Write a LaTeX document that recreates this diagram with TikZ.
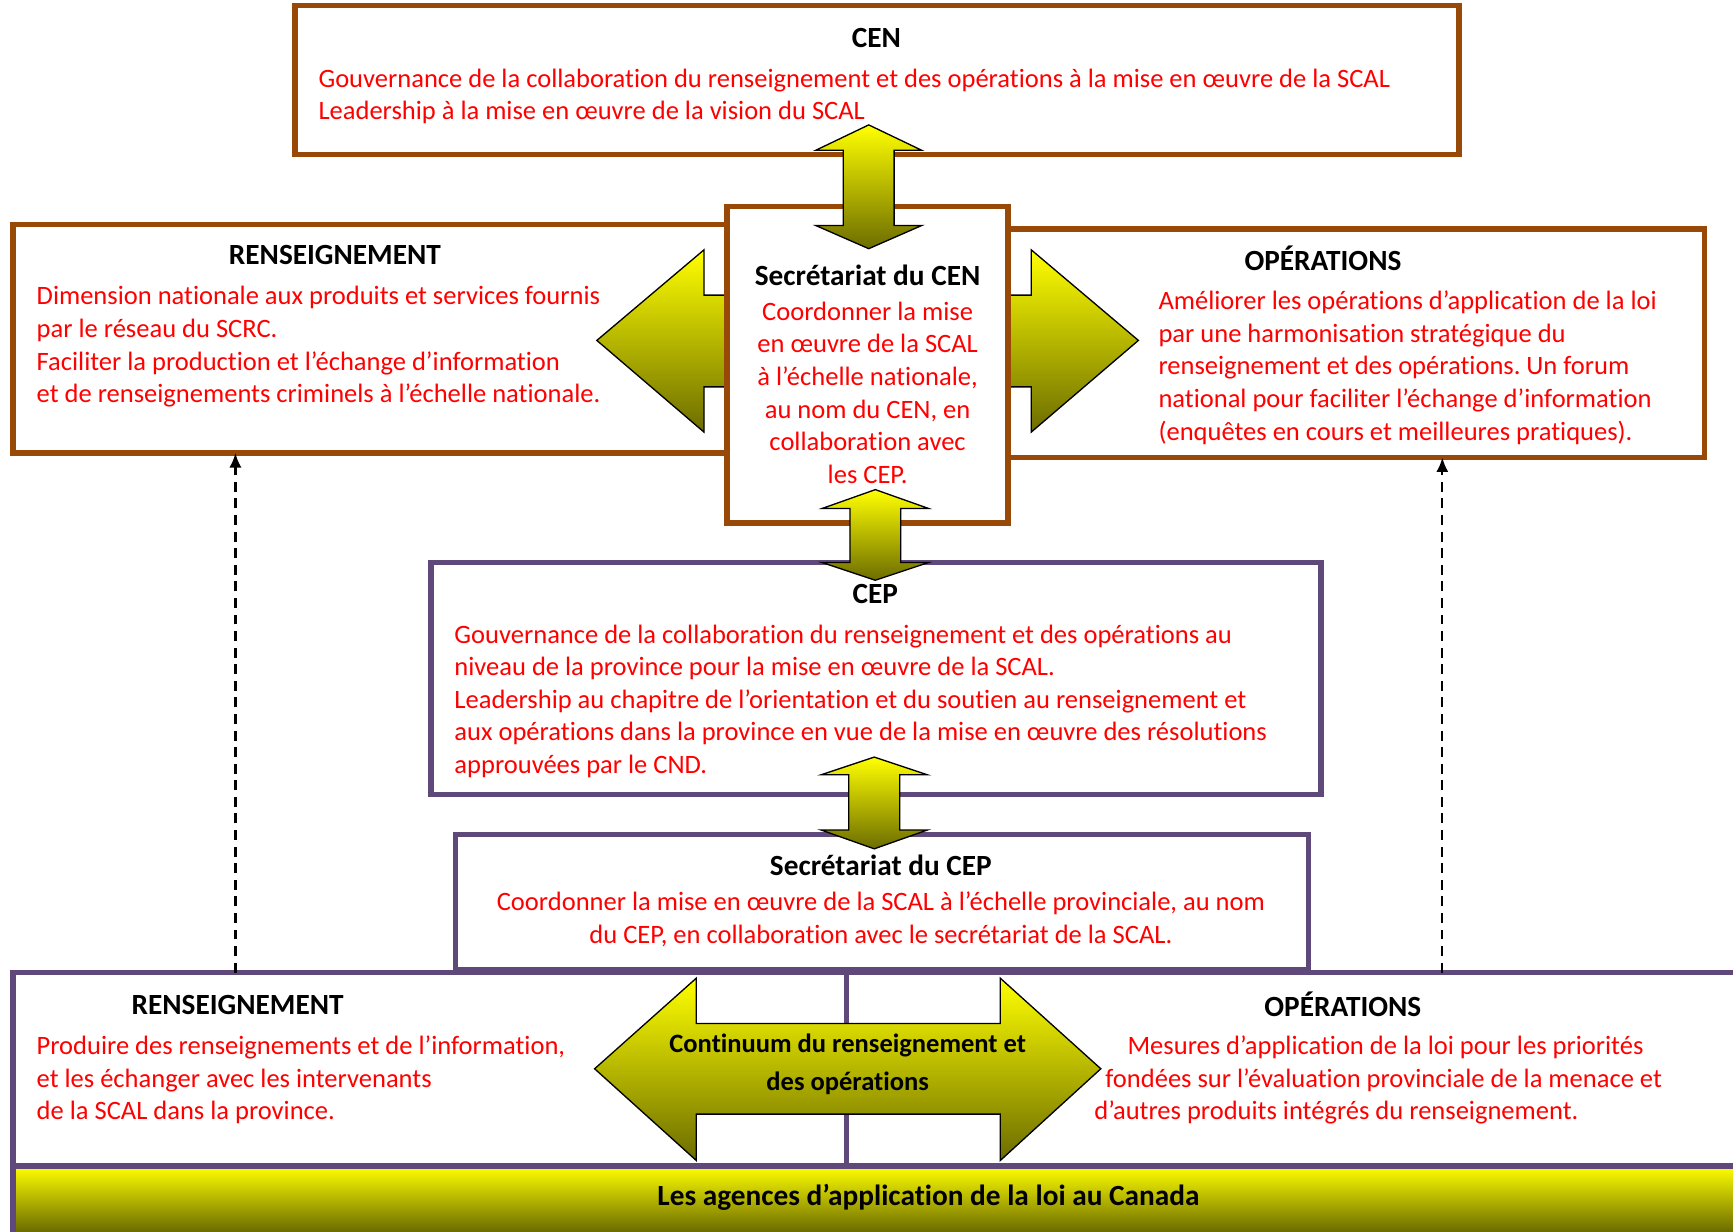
\documentclass[tikz,border=0pt]{standalone}
\usepackage{fontspec}
\setmainfont{Carlito}[Ligatures=NoCommon]
\usetikzlibrary{arrows.meta}
\definecolor{cenbrown}{RGB}{152,72,7}
\definecolor{cepviolet}{RGB}{95,73,122}
\definecolor{flechejaune}{RGB}{255,255,0}
\definecolor{flecheolive}{RGB}{108,108,0}
\definecolor{texterouge}{RGB}{255,0,0}
\frenchspacing

\tikzset{
  boitecen/.style={draw=cenbrown, line width=5pt, fill=white, inner sep=0pt, outer sep=0pt, anchor=north west},
  boitecep/.style={boitecen, draw=cepviolet},
  titre/.style={font=\bfseries\fontsize{26.5}{30}\selectfont, inner sep=0pt},
  corps/.style={text=texterouge, font=\fontsize{24}{29.5}\selectfont, inner sep=0pt, align=left, anchor=north west},
  corpsc/.style={corps, align=center, anchor=north},
  fleche/.style={draw=black, line width=1.2pt, top color=flechejaune, bottom color=flecheolive},
  tirets/.style={dash pattern=on 9pt off 6pt, line width=2pt, -{Latex[length=13pt,width=11pt]}}
}

% vertical double arrow: centre x, top tip, top head base, bottom head base, bottom tip
\newcommand{\flechev}[5]{%
  \shadedraw[fleche] (#1,#2) -- (#1+48,#3) -- (#1+23,#3) -- (#1+23,#4) -- (#1+48,#4)
    -- (#1,#5) -- (#1-48,#4) -- (#1-23,#4) -- (#1-23,#3) -- (#1-48,#3) -- cycle;}

\begin{document}
\begin{tikzpicture}[x=1pt, y={(0pt,-1pt)}]
\useasboundingbox (0,0) rectangle (1568,1114);
\clip (0,0) rectangle (1568,1114);

% national level
\node[boitecen, minimum width=648pt, minimum height=207pt] (rens) at (12,203) {};
\node[boitecen, minimum width=630pt, minimum height=207pt] (ops) at (912,207) {};
\shadedraw[fleche] (540,308) -- (637,226) -- (637,267) -- (664,267) -- (664,350) -- (637,350) -- (637,391) -- cycle;
\shadedraw[fleche] (1030,308) -- (933,226) -- (933,267) -- (906,267) -- (906,350) -- (933,350) -- (933,391) -- cycle;
\node[boitecen, minimum width=1053pt, minimum height=135pt] (cen) at (267,5) {};
\node[boitecen, minimum width=254pt, minimum height=286pt] (seccen) at (658,187) {};

% provincial level
\node[boitecep, minimum width=805pt, minimum height=210pt] (cep) at (390,509) {};
\node[boitecep, minimum width=772pt, minimum height=122pt] (seccep) at (412,755) {};
\node[boitecep, minimum width=1620pt, minimum height=300pt] (agences) at (12,880) {};
\shade[top color=flechejaune, bottom color=flecheolive] (12,1055) rectangle (1600,1114);
\draw[cepviolet, line width=5pt] (12,1055) -- (1600,1055);
\draw[cepviolet, line width=5pt] (766,880) -- (766,1055);
\draw[cepviolet, line width=5pt] (12,1055) -- (12,1120);

% block arrows
\flechev{786}{113}{136}{204}{225}
\flechev{792}{443}{460}{509}{525}
\flechev{791}{685}{701}{751}{768}
\shadedraw[fleche] (538,967) -- (630,885) -- (630,926) -- (905,926) -- (905,885) -- (996,967)
  -- (905,1050) -- (905,1008) -- (630,1008) -- (630,1050) -- cycle;

% texts
\node[titre] (cent) at (793,34) {CEN};
\node[corps] (cenc) at (288,62) {Gouvernance de la collaboration du renseignement et des opérations à la mise en œuvre de la SCAL\\Leadership à la mise en œuvre de la vision du SCAL};

\node[titre] (renst) at (303,231) {RENSEIGNEMENT};
\node[corps] (rensc) at (33,259) {Dimension nationale aux produits et services fournis\\par le réseau du SCRC.\\Faciliter la production et l’échange d’information\\et de renseignements criminels à l’échelle nationale.};

\node[titre] (seccent) at (785,249) {Secrétariat du CEN};
\node[corpsc] (seccenc) at (785,273) {Coordonner la mise\\en œuvre de la SCAL\\à l’échelle nationale,\\au nom du CEN, en\\collaboration avec\\les CEP.};

\node[titre] (opst) at (1197,234) {OPÉRATIONS};
\node[corps] (opsc) at (1048,263) {Améliorer les opérations d’application de la loi\\par une harmonisation stratégique du\\renseignement et des opérations. Un forum\\national pour faciliter l’échange d’information\\(enquêtes en cours et meilleures pratiques).};

\node[titre] (cept) at (792,537) {CEP};
\node[corps] (cepc) at (411,565) {Gouvernance de la collaboration du renseignement et des opérations au\\niveau de la province pour la mise en œuvre de la SCAL.\\Leadership au chapitre de l’orientation et du soutien au renseignement et\\aux opérations dans la province en vue de la mise en œuvre des résolutions\\approuvées par le CND.};

\node[titre] (seccept) at (797,783) {Secrétariat du CEP};
\node[corpsc] (seccepc) at (797,807) {Coordonner la mise en œuvre de la SCAL à l’échelle provinciale, au nom\\du CEP, en collaboration avec le secrétariat de la SCAL.};

\node[titre] (brenst) at (215,909) {RENSEIGNEMENT};
\node[corps] (brensc) at (33,937) {Produire des renseignements et de l’information,\\et les échanger avec les intervenants\\de la SCAL dans la province.};

\node[titre] (bopst) at (1215,909) {OPÉRATIONS};
\node[corps] (bopsc) at (990,937) {\hspace*{30pt}Mesures d’application de la loi pour les priorités\\\hspace*{10pt}fondées sur l’évaluation provinciale de la menace et\\d’autres produits intégrés du renseignement.};

\node[titre, align=center, font=\bfseries\fontsize{24}{35}\selectfont] (continuum) at (767,963) {Continuum du renseignement et\\des opérations};
\node[titre] (agencest) at (840,1083) {Les agences d’application de la loi au Canada};

% dashed links
\coordinate (dg) at (213,880);
\coordinate (dd) at (1305,880);
\draw[tirets] (dg) -- (dg |- rens.south);
\draw[tirets] (dd) -- (dd |- ops.south);
\end{tikzpicture}
\end{document}
